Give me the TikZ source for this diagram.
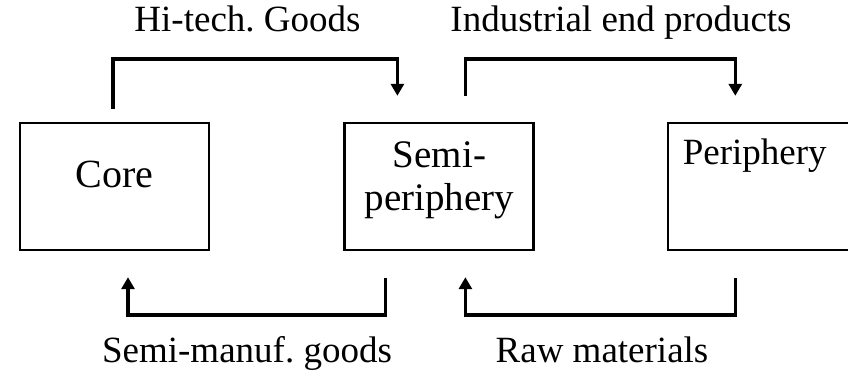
\documentclass[tikz,border=0pt]{standalone}
\usepackage{fontspec}
\setmainfont{Liberation Serif}
\usetikzlibrary{arrows.meta, positioning}
\frenchspacing

\begin{document}
\begin{tikzpicture}[
		x=1pt, y=1pt,
		node distance=133pt,
		box/.style={draw, line width=2.4pt, minimum width=189pt, minimum height=127pt, inner sep=0pt},
		lbl/.style={font=\fontsize{37}{43}\selectfont, inner sep=0pt},
		flow/.style={line width=3.6pt, -{Triangle[width=13pt, length=12pt]}}]

	\useasboundingbox (0,0) rectangle (848,375);
	\clip (0,0) rectangle (848,375);

	\node[box] (core) at (114.5,188.5) {};
	\node[box, right=of core] (semi) {};
	\node[box, right=132pt of semi] (peri) {};

	\node[lbl, anchor=base, font=\fontsize{40}{46}\selectfont] (coretxt) at ([yshift=-1.5pt]core.center) {Core};
	\node[lbl, align=center, font=\fontsize{39}{43}\selectfont] (semitxt) at ([xshift=0.5pt, yshift=6.5pt]semi.center) {Semi-\\periphery};
	\node[lbl, anchor=base] (peritxt) at ([xshift=-7.5pt, yshift=21.5pt]peri.center) {Periphery};

	% flows on top
	\draw[flow] ([xshift=-1.5pt, yshift=13pt]core.north) -- ++(0,50) -| ([xshift=-41.5pt, yshift=26pt]semi.north);
	\draw[flow] ([xshift=26.5pt, yshift=26pt]semi.north) -- ++(0,37) -| ([xshift=-27pt, yshift=26pt]peri.north);

	% flows below
	\draw[flow] ([xshift=-53.5pt, yshift=-27pt]semi.south) -- ++(0,-37) -| ([xshift=13.5pt, yshift=-26pt]core.south);
	\draw[flow] ([xshift=-27pt, yshift=-27pt]peri.south) -- ++(0,-37) -| ([xshift=26.5pt, yshift=-26pt]semi.south);

	\node[lbl, anchor=base] (hitech) at (247.5,343) {Hi-tech. Goods};
	\node[lbl, anchor=base] (industrial) at (621,343) {Industrial end products};
	\node[lbl, anchor=base] (semimanuf) at (247,13) {Semi-manuf. goods};
	\node[lbl, anchor=base] (raw) at (602,13) {Raw materials};

\end{tikzpicture}
\end{document}
